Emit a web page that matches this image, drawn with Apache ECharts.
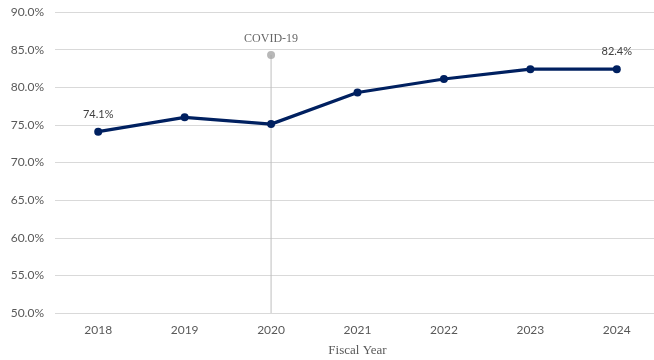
<!DOCTYPE html>
<html>
<head>
<meta charset="utf-8">
<script src="https://cdn.jsdelivr.net/npm/echarts@6/dist/echarts.min.js"></script>
<style>
  html, body { margin: 0; padding: 0; background: #fff; }
  #chart { width: 654px; height: 360px; }
</style>
</head>
<body>
<div id="chart"></div>
<script>
// Fiscal years and rate by year (percent)
const years = ['2018', '2019', '2020', '2021', '2022', '2023', '2024'];
const rates = [74.1, 76.0, 75.1, 79.3, 81.1, 82.4, 82.4];
// Years whose value gets a printed label
const labeledYears = ['2018', '2024'];
// Event marker: year and height of its marker
const eventYear = '2020';
const eventLabel = 'COVID-19';
const eventLevel = 84.3;
// Y axis range and step
const yMin = 50, yMax = 90, yStep = 5;

const eventValues = years.map(y => (y === eventYear ? eventLevel : null));
const textGray = '#595959';

const chart = echarts.init(document.getElementById('chart'));
chart.setOption({
  animation: false,
  grid: {
    left: 55, top: 12, width: 605, height: 301,
    containLabel: false, outerBoundsMode: 'none'
  },
  xAxis: {
    type: 'category',
    data: years,
    boundaryGap: true,
    name: 'Fiscal Year',
    nameLocation: 'middle',
    nameGap: 31,
    nameTextStyle: { fontFamily: 'Liberation Serif', fontSize: 13, color: textGray },
    axisLine: { show: false },
    axisTick: { show: false },
    axisLabel: { fontFamily: 'Lato', fontSize: 12, color: textGray, margin: 11 }
  },
  yAxis: {
    type: 'value',
    min: yMin, max: yMax, interval: yStep,
    axisLine: { show: false },
    axisTick: { show: false },
    splitLine: { lineStyle: { color: '#d9d9d9', width: 1 } },
    axisLabel: {
      fontFamily: 'Lato', fontSize: 12, color: textGray, margin: 11,
      formatter: v => v.toFixed(1) + '%'
    }
  },
  series: [
    {
      // thin vertical rule under the event marker
      type: 'bar',
      data: eventValues,
      barWidth: 1,
      itemStyle: { color: '#bfbfbf' },
      silent: true,
      z: 1
    },
    {
      type: 'scatter',
      data: eventValues,
      symbol: 'circle',
      symbolSize: 8,
      itemStyle: { color: '#a6a6a6' },
      label: {
        show: true, position: 'top', distance: 6,
        formatter: eventLabel,
        fontFamily: 'Liberation Serif', fontSize: 12, color: '#404040'
      },
      z: 3
    },
    {
      type: 'line',
      data: rates,
      symbol: 'circle',
      symbolSize: 8,
      lineStyle: { color: '#002060', width: 3.2 },
      itemStyle: { color: '#002060' },
      label: {
        show: true, position: 'top', distance: 8,
        fontFamily: 'Lato', fontSize: 11, color: '#404040',
        formatter: p => (labeledYears.includes(p.name) ? p.value.toFixed(1) + '%' : '')
      },
      z: 4
    }
  ]
});
</script>
</body>
</html>
